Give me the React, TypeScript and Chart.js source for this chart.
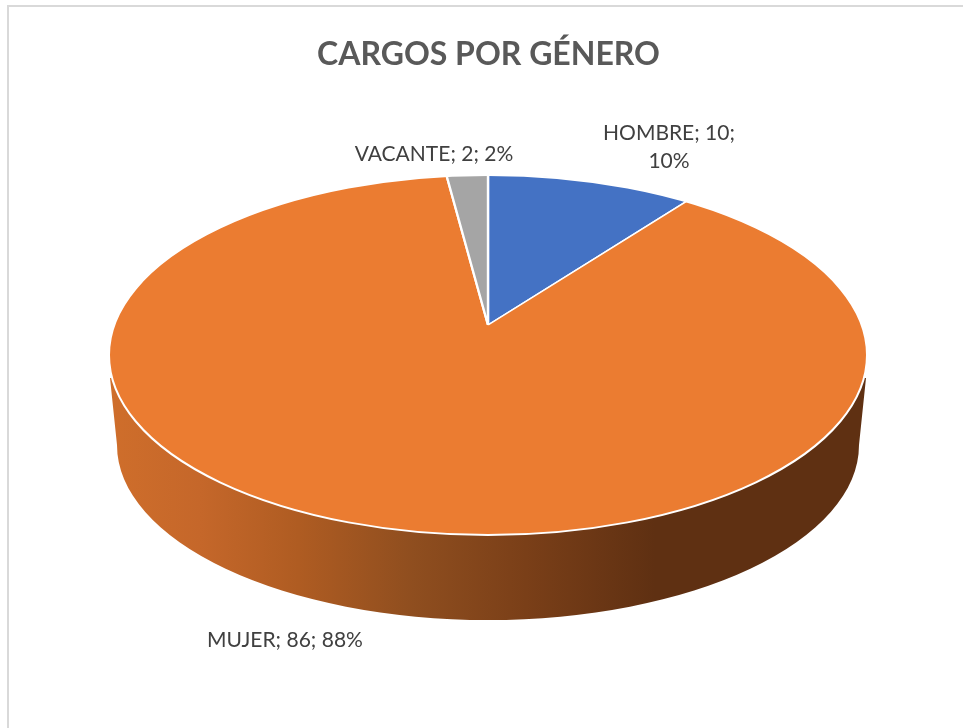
import React, { useEffect, useRef } from "react";
import { Chart, registerables } from "chart.js";

Chart.register(...registerables);

const chartTitle = "CARGOS POR GÉNERO";
const categories = ["HOMBRE", "MUJER", "VACANTE"];
const values = [10, 86, 2];
const sliceColors = ["#4472C4", "#EB7C31", "#A5A5A5"];

const W = 963;
const H = 728;
const FONT = "Lato, Carlito, sans-serif";

const top = { cx: 488, cy: 355, a: 379, b: 180 };
const apex = { x: 488, y: 325 };
const base = { cx: 488, cy: 445, a: 371, b: 175 };
const squash = 0.465;
const reach = 480;

const labelSpots = [
  { x: 669, y: 133, wrap: true },
  { x: 285, y: 640, wrap: false },
  { x: 434, y: 154, wrap: false },
];

const pie3d = {
  id: "pie3d",
  beforeDraw(chart: any) {
    const c = chart.ctx;
    c.save();
    c.fillStyle = "#ffffff";
    c.fillRect(0, 0, W, H);
    c.fillStyle = "#D9D9D9";
    c.fillRect(7, 5, W - 7, 2);
    c.fillRect(7, 5, 2, H - 5);
    c.restore();
  },
  beforeDatasetsDraw(chart: any) {
    const c = chart.ctx;
    const arc = chart.getDatasetMeta(0).data[0];
    // side wall
    c.save();
    const g = c.createLinearGradient(top.cx - top.a, 0, top.cx + top.a, 0);
    g.addColorStop(0, "#CF6E2B");
    g.addColorStop(0.12, "#C5672A");
    g.addColorStop(0.25, "#AF5C22");
    g.addColorStop(0.4, "#8F4E1F");
    g.addColorStop(0.55, "#7A3F18");
    g.addColorStop(0.72, "#5F3012");
    g.addColorStop(1, "#5F3012");
    c.fillStyle = g;
    c.beginPath();
    c.moveTo(top.cx - top.a + 1, 378);
    c.lineTo(base.cx - base.a, base.cy);
    c.ellipse(base.cx, base.cy, base.a, base.b, 0, Math.PI, 0, true);
    c.lineTo(top.cx + top.a - 1, 378);
    c.closePath();
    c.fill();
    c.restore();
    // top face: slices seen from the apex, clipped to the rim
    c.save();
    c.beginPath();
    c.ellipse(top.cx, top.cy, top.a, top.b, 0, 0, Math.PI * 2);
    c.clip();
    const s = reach / arc.outerRadius;
    c.translate(apex.x, apex.y);
    c.scale(s, s * squash);
    c.translate(-arc.x, -arc.y);
  },
  afterDatasetsDraw(chart: any) {
    const c = chart.ctx;
    c.restore();
    c.save();
    c.strokeStyle = "#ffffff";
    c.lineWidth = 2;
    c.beginPath();
    c.ellipse(top.cx, top.cy, top.a, top.b, 0, 0, Math.PI * 2);
    c.stroke();
    // data labels
    const total = values.reduce((p, v) => p + v, 0);
    c.fillStyle = "#404040";
    c.font = `21px ${FONT}`;
    c.textAlign = "center";
    c.textBaseline = "middle";
    categories.forEach((name, i) => {
      const pct = `${Math.round((values[i] / total) * 100)}%`;
      const spot = labelSpots[i];
      if (spot.wrap) {
        c.fillText(`${name}; ${values[i]};`, spot.x, spot.y);
        c.fillText(pct, spot.x, spot.y + 28);
      } else {
        c.fillText(`${name}; ${values[i]}; ${pct}`, spot.x, spot.y);
      }
    });
    c.restore();
  },
};

export default function App() {
  const ref = useRef<HTMLCanvasElement>(null);
  useEffect(() => {
    const chart = new Chart(ref.current!, {
      type: "pie",
      data: {
        labels: categories,
        datasets: [
          {
            data: values,
            backgroundColor: sliceColors,
            borderColor: "#ffffff",
            borderWidth: 1.6,
            clip: false,
          } as any,
        ],
      },
      options: {
        responsive: false,
        animation: false,
        layout: { padding: { left: 14 } },
        plugins: {
          legend: { display: false },
          tooltip: { enabled: false },
          title: {
            display: true,
            text: chartTitle,
            color: "#595959",
            font: { family: FONT, size: 32, weight: "bold" },
            padding: { top: 35, bottom: 10 },
          },
        },
      },
      plugins: [pie3d],
    });
    return () => chart.destroy();
  }, []);
  return (
    <canvas
      ref={ref}
      width={W}
      height={H}
      style={{ position: "absolute", left: 0, top: 0, width: W, height: H }}
    />
  );
}
